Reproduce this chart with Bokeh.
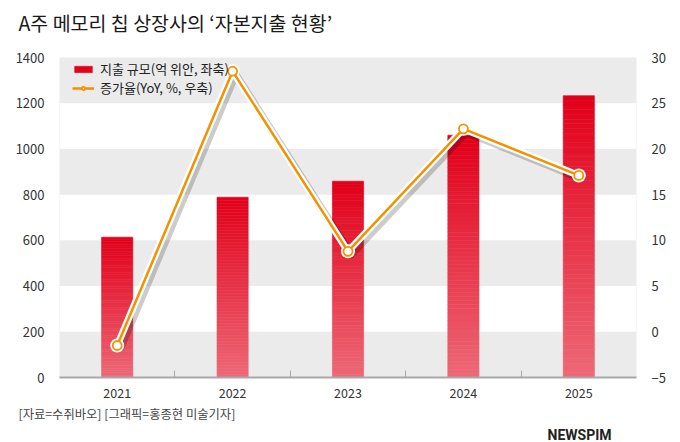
from bokeh.plotting import figure
from bokeh.models import (Range1d, LinearAxis, FixedTicker, ColumnDataSource, Legend,
                          LegendItem, Title)
from bokeh.transform import dodge
from bokeh.embed import file_html
from bokeh.resources import INLINE

# ---- data ----
years = ["2021", "2022", "2023", "2024", "2025"]
capex = [614, 789, 859, 1060, 1233]          # 억 위안 (left axis)
growth = [-1.5, 28.5, 8.8, 22.2, 17.1]        # YoY % (right axis)
left_ticks = [0, 200, 400, 600, 800, 1000, 1200, 1400]
right_ticks = [-5, 0, 5, 10, 15, 20, 25, 30]

title_text = "A주 메모리 칩 상장사의 ‘자본지출 현황’"
source_text = "[자료=수쥐바오] [그래픽=홍종현 미술기자]"
bar_label = "지출 규모(억 위안, 좌축)"
line_label = "증가율(YoY, %, 우축)"
logo_text = "NEWSPIM"

FONT = "Noto Sans CJK KR"
xpos = [i + 1 for i in range(len(years))]

p = figure(width=680, height=442, output_backend="svg", toolbar_location=None,
           x_range=Range1d(0.5, len(years) + 0.5), y_range=Range1d(0, 1400),
           min_border_left=59, min_border_right=44, min_border_top=53, min_border_bottom=65)
p.outline_line_color = None
p.background_fill_color = "#EBEBEB"
p.border_fill_color = "white"
p.extra_y_ranges = {"pct": Range1d(-5, 30)}

# title (spacer first = closest to the frame, then the real title)
p.add_layout(Title(text=" ", text_font_size="12px", standoff=0), "above")
p.add_layout(Title(text=title_text, align="left", offset=-41, text_font=FONT,
                   text_font_size="19.5px", text_font_style="normal", text_color="#1a1a1a"),
             "above")

# grid bands (white bands over grey background)
p.xgrid.visible = False
p.ygrid.ticker = FixedTicker(ticks=left_ticks)
p.ygrid.grid_line_color = None
p.ygrid.band_fill_color = "white"
p.ygrid.band_fill_alpha = 1.0

# axes
p.xaxis.ticker = FixedTicker(ticks=xpos, minor_ticks=[x + 0.5 for x in xpos[:-1]])
p.xaxis.major_label_overrides = {x: y for x, y in zip(xpos, years)}
p.xaxis.axis_line_color = "#A8A8A8"
p.xaxis.axis_line_width = 2
p.xaxis.major_tick_line_color = None
p.xaxis.minor_tick_line_color = "#A8A8A8"
p.xaxis.minor_tick_in = 7
p.xaxis.minor_tick_out = 0
p.xaxis.major_label_standoff = 4
p.xaxis.major_label_text_font = FONT
p.xaxis.major_label_text_font_size = "12.5px"
p.xaxis.major_label_text_color = "#333333"

p.yaxis.ticker = FixedTicker(ticks=left_ticks)
p.yaxis.axis_line_color = None
p.yaxis.major_tick_line_color = None
p.yaxis.minor_tick_line_color = None
p.yaxis.major_label_standoff = 9
p.yaxis.major_label_text_font = FONT
p.yaxis.major_label_text_font_size = "13px"
p.yaxis.major_label_text_color = "#333333"

ra = LinearAxis(y_range_name="pct", ticker=FixedTicker(ticks=right_ticks))
ra.axis_line_color = None
ra.major_tick_line_color = None
ra.minor_tick_line_color = None
ra.major_label_standoff = 9
ra.major_label_text_font = FONT
ra.major_label_text_font_size = "13px"
ra.major_label_text_color = "#333333"
p.add_layout(ra, "right")

# ---- bars with vertical gradient (stacked slices) ----
N = 60
top_rgb = (226, 0, 26)
bot_rgb = (237, 104, 118)
bx, bb, bt, bc = [], [], [], []
for k in range(N):
    f = k / (N - 1)
    col = "#%02x%02x%02x" % tuple(int(round(b + (t - b) * f)) for t, b in zip(top_rgb, bot_rgb))
    for x, v in zip(xpos, capex):
        bx.append(x)
        bb.append(v * k / N)
        bt.append(v * (k + 1) / N)
        bc.append(col)
bars = p.vbar(x="x", bottom="b", top="t", width=0.27, fill_color="c", line_color="c",
              line_width=0.6, source=ColumnDataSource(dict(x=bx, b=bb, t=bt, c=bc)))

# ---- growth line ----
lsrc = ColumnDataSource(dict(x=xpos, y=growth))
p.line(x=dodge("x", 0.025, range=p.x_range), y=dodge("y", -0.35, range=p.extra_y_ranges["pct"]),
       source=lsrc, y_range_name="pct", line_color="#000000", line_alpha=0.2, line_width=8,
       line_join="round")
p.line(x="x", y="y", source=lsrc, y_range_name="pct", line_color="white", line_width=7,
       line_join="round")
p.scatter(x="x", y="y", source=lsrc, y_range_name="pct", size=14, fill_color="white",
          line_color=None)
ln = p.line(x="x", y="y", source=lsrc, y_range_name="pct", line_color="#F39200", line_width=2.5,
            line_join="round")
mk = p.scatter(x="x", y="y", source=lsrc, y_range_name="pct", size=9, fill_color="white",
               line_color="#F39200", line_width=1.8)

# ---- legend ----
legend = Legend(items=[LegendItem(label=bar_label, renderers=[bars], index=(N - 1) * len(years)),
                       LegendItem(label=line_label, renderers=[ln, mk])],
                location=(13, 280), orientation="vertical")
legend.background_fill_alpha = 0
legend.border_line_color = None
legend.padding = 0
legend.margin = 0
legend.spacing = -5
legend.glyph_width = 22
legend.glyph_height = 8
legend.label_height = 13
legend.label_standoff = 6
legend.label_text_font = FONT
legend.label_text_font_size = "13px"
legend.label_text_color = "#222222"
p.add_layout(legend, "center")

# ---- footer + logo text ----
p.add_layout(Title(text=source_text, align="left", offset=-41, standoff=4, text_font=FONT,
                   text_font_size="12.3px", text_font_style="normal", text_color="#444444"),
             "below")
p.add_layout(Title(text=logo_text, align="right", offset=25, standoff=0, text_font="Roboto",
                   text_font_size="14px", text_font_style="bold", text_color="#222222"),
             "below")

open("out.html", "w").write(file_html(p, INLINE))
